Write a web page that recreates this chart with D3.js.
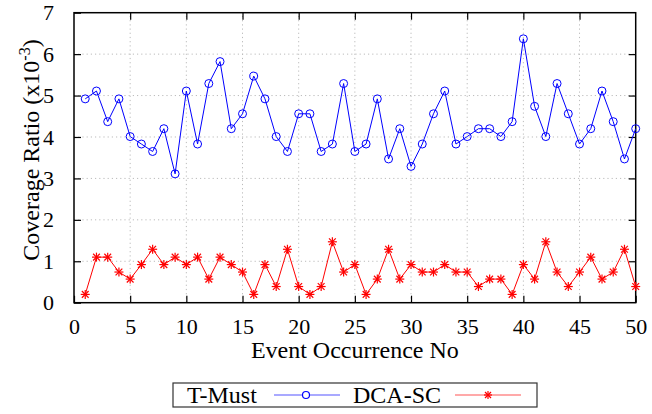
<!DOCTYPE html>
<html>
<head>
<meta charset="utf-8">
<script src="https://cdn.jsdelivr.net/npm/d3@7"></script>
<style>
  body { margin: 0; background: #fff; }
  svg text { font-family: "Times New Roman", "Liberation Serif", Tinos, "DejaVu Serif", serif !important; }
</style>
</head>
<body>
<div id="chart"></div>
<script>
// event numbers 1..50
const events = d3.range(1, 51);
const tMust = [4.92, 5.11, 4.37, 4.92, 4.01, 3.83, 3.65, 4.20, 3.11, 5.11,
  3.83, 5.29, 5.82, 4.20, 4.56, 5.47, 4.92, 4.01, 3.65, 4.56,
  4.56, 3.65, 3.83, 5.29, 3.65, 3.83, 4.92, 3.47, 4.20, 3.29,
  3.83, 4.56, 5.11, 3.83, 4.01, 4.20, 4.20, 4.01, 4.37, 6.37,
  4.74, 4.01, 5.29, 4.56, 3.83, 4.20, 5.11, 4.37, 3.47, 4.20];
const dcaSc = [0.20, 1.10, 1.10, 0.74, 0.57, 0.92, 1.29, 0.92, 1.10, 0.92,
  1.10, 0.57, 1.10, 0.92, 0.74, 0.20, 0.92, 0.39, 1.29, 0.39,
  0.20, 0.39, 1.47, 0.74, 0.92, 0.20, 0.57, 1.29, 0.57, 0.92,
  0.74, 0.74, 0.92, 0.74, 0.74, 0.39, 0.57, 0.57, 0.20, 0.92,
  0.57, 1.47, 0.74, 0.39, 0.74, 1.10, 0.57, 0.74, 1.29, 0.39];
const xTicks = d3.range(0, 51, 5);
const yTicks = d3.range(0, 8, 1);

const width = 652, height = 414;
const m = { left: 74, right: 16.3, top: 12.7, bottom: 111.3 };

const svg = d3.select("#chart").append("svg")
  .attr("width", width)
  .attr("height", height);

const x = d3.scaleLinear().domain([0, 50]).range([m.left, width - m.right]);
const y = d3.scaleLinear().domain([0, 7]).range([height - m.bottom, m.top]);

// grid
const grid = svg.append("g").attr("stroke", "#bbb").attr("stroke-dasharray", "1.2,3").attr("stroke-width", 1);
xTicks.filter(d => d > 0 && d < 50).forEach(d => {
  grid.append("line").attr("x1", x(d)).attr("x2", x(d)).attr("y1", y(0)).attr("y2", y(7));
});
yTicks.filter(d => d > 0 && d < 7).forEach(d => {
  grid.append("line").attr("x1", x(0)).attr("x2", x(50)).attr("y1", y(d)).attr("y2", y(d));
});

// axes with inward ticks on all sides
const tl = 7;
svg.append("g").attr("transform", `translate(0,${y(0)})`)
  .call(d3.axisBottom(x).tickValues(xTicks).tickFormat(d3.format("d")).tickSizeInner(-tl).tickSizeOuter(0).tickPadding(16))
  .call(g => g.select(".domain").remove());
svg.append("g").attr("transform", `translate(0,${y(7)})`)
  .call(d3.axisTop(x).tickValues(xTicks.filter(d => d > 0 && d < 50)).tickSizeInner(-tl).tickSizeOuter(0).tickFormat(""))
  .call(g => g.select(".domain").remove());
svg.append("g").attr("transform", `translate(${x(0)},0)`)
  .call(d3.axisLeft(y).tickValues(yTicks).tickFormat(d3.format("d")).tickSizeInner(-tl).tickSizeOuter(0).tickPadding(20))
  .call(g => g.select(".domain").remove());
svg.append("g").attr("transform", `translate(${x(50)},0)`)
  .call(d3.axisRight(y).tickValues(yTicks.filter(d => d > 0 && d < 7)).tickSizeInner(-tl).tickSizeOuter(0).tickFormat(""))
  .call(g => g.select(".domain").remove());

svg.selectAll(".tick line").attr("stroke", "#000").attr("stroke-width", 1.2);
svg.selectAll(".tick text")
  .attr("fill", "#000")
  .style("font-size", "22px");

// frame
svg.append("rect")
  .attr("x", x(0)).attr("y", y(7))
  .attr("width", x(50) - x(0)).attr("height", y(0) - y(7))
  .attr("fill", "none").attr("stroke", "#000").attr("stroke-width", 1.5);

// axis titles
svg.append("text")
  .attr("x", (x(0) + x(50)) / 2).attr("y", 358)
  .attr("text-anchor", "middle").attr("font-size", 24)
  .text("Event Occurrence No");

const yl = svg.append("text")
  .attr("transform", `translate(39,150) rotate(-90)`)
  .attr("text-anchor", "middle").attr("font-size", 24);
yl.append("tspan").text("Coverage Ratio (x10");
yl.append("tspan").attr("font-size", 16).attr("dy", -9).text("-3");
yl.append("tspan").attr("dy", 9).text(")");

// lines
const line = d3.line().x((d, i) => x(events[i])).y(d => y(d));
svg.append("path").attr("d", line(tMust))
  .attr("fill", "none").attr("stroke", "#0000ff").attr("stroke-width", 1);
svg.append("path").attr("d", line(dcaSc))
  .attr("fill", "none").attr("stroke", "#ff0000").attr("stroke-width", 1);

// markers
svg.append("g").selectAll("circle").data(tMust).join("circle")
  .attr("cx", (d, i) => x(events[i])).attr("cy", d => y(d)).attr("r", 4)
  .attr("fill", "none").attr("stroke", "#0000ff").attr("stroke-width", 1);

const star = (g, s) => {
  g.append("line").attr("x1", -s).attr("x2", s).attr("y1", 0).attr("y2", 0);
  g.append("line").attr("x1", 0).attr("x2", 0).attr("y1", -s).attr("y2", s);
  g.append("line").attr("x1", -s * 0.75).attr("x2", s * 0.75).attr("y1", -s * 0.75).attr("y2", s * 0.75);
  g.append("line").attr("x1", -s * 0.75).attr("x2", s * 0.75).attr("y1", s * 0.75).attr("y2", -s * 0.75);
};
svg.append("g").attr("stroke", "#ff0000").attr("stroke-width", 1.2)
  .selectAll("g").data(dcaSc).join("g")
  .attr("transform", (d, i) => `translate(${x(events[i])},${y(d)})`)
  .each(function () { star(d3.select(this), 4.5); });

// legend
const lg = svg.append("g");
lg.append("rect").attr("x", 173).attr("y", 383).attr("width", 364).attr("height", 24)
  .attr("fill", "#fff").attr("stroke", "#333").attr("stroke-width", 1.2);
lg.append("text").attr("x", 187).attr("y", 403).attr("font-size", 24).text("T-Must");
lg.append("line").attr("x1", 274).attr("x2", 340).attr("y1", 395).attr("y2", 395)
  .attr("stroke", "#5555ff").attr("stroke-width", 1.2);
lg.append("circle").attr("cx", 306).attr("cy", 395).attr("r", 3.5)
  .attr("fill", "#fff").attr("stroke", "#0000ff").attr("stroke-width", 1.2);
lg.append("text").attr("x", 353).attr("y", 403).attr("font-size", 24).text("DCA-SC");
lg.append("line").attr("x1", 455).attr("x2", 521).attr("y1", 395).attr("y2", 395)
  .attr("stroke", "#ff5555").attr("stroke-width", 1.2);
const ls = lg.append("g").attr("transform", "translate(488,395)").attr("stroke", "#ff0000").attr("stroke-width", 1.2);
star(ls, 4);
</script>
</body>
</html>
